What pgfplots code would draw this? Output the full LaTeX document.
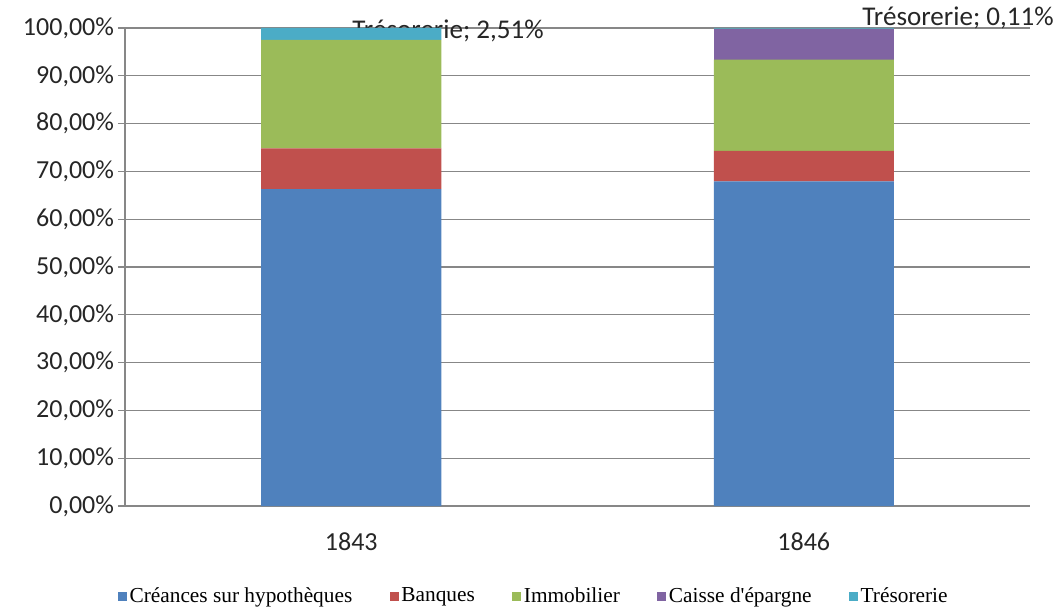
\documentclass[border=0pt]{standalone}
\usepackage{pgfplots}
\pgfplotsset{compat=1.18}
\usepackage{fontspec}
\setmainfont{Carlito}
\newfontfamily\legfont{Liberation Serif}
\newcommand{\legtxt}[1]{{\legfont\fontsize{16}{18}\selectfont #1}}
\definecolor{cA}{HTML}{4F81BD}
\definecolor{cB}{HTML}{C0504D}
\definecolor{cC}{HTML}{9BBB59}
\definecolor{cD}{HTML}{8064A2}
\definecolor{cE}{HTML}{4BACC6}
\definecolor{gridc}{HTML}{878787}
\begin{document}
\begin{tikzpicture}
\useasboundingbox (-93.75pt,-75.75pt) rectangle (699pt,379.5pt);
\begin{axis}[
  scale only axis,
  width=678.75pt, height=358.5pt,
  ybar stacked, bar width=135pt,
  xmin=-0.5, xmax=1.5, ymin=0, ymax=100,
  axis x line*=bottom, axis y line*=left,
  axis line style={gridc, line width=0.8pt},
  xtick={0,1}, xticklabels={1843,1846},
  major x tick style={draw=none},
  extra x ticks={-0.5,0.5,1.5}, extra x tick labels={},
  extra x tick style={major tick length=5.25pt, tick align=outside, grid=none, major tick style={draw=gridc,line width=0.8pt}},
  ytick={0,10,...,100},
  yticklabel={\pgfmathprintnumber[fixed,fixed zerofill,precision=2,use comma,assume math mode=true]{\tick}\%},
  ymajorgrids, major grid style={gridc, line width=0.8pt},
  tick align=outside, major tick length=5.25pt,
  y tick style={gridc, line width=0.8pt},
  tick label style={font=\fontsize{19.5}{22}\selectfont, text=black!85},
  yticklabel style={xshift=0.5pt},
  xticklabel style={yshift=-11.5pt},
  clip=false,
  legend columns=5,
  legend style={at={(0.452,-0.188)}, anchor=center, draw=none, fill=none,
    font=\legfont\fontsize{16}{18}\selectfont, text=black,
    /tikz/every even column/.append style={column sep=26pt}},
  legend image code/.code={\fill[#1] (0pt,-3.6pt) rectangle (6.8pt,3.2pt);},
]
\addplot[fill=cA, draw=none] coordinates {(0,66.3) (1,67.9)};
\addplot[fill=cB, draw=none] coordinates {(0,8.5) (1,6.4)};
\addplot[fill=cC, draw=none] coordinates {(0,22.69) (1,19.1)};
\addplot[fill=cD, draw=none] coordinates {(0,0) (1,6.49)};
\addplot[fill=cE, draw=none] coordinates {(0,2.51) (1,0.11)};
\legend{\legtxt{Créances sur hypothèques},\legtxt{Banques},\legtxt{Immobilier},\legtxt{Caisse d'épargne},\legtxt{Trésorerie}}
\node[font=\fontsize{20.3}{24}\selectfont, text=black!85] at (axis cs:0.214,99.4) {Trésorerie; 2,51\%};
\node[font=\fontsize{20.3}{24}\selectfont, text=black!85] at (axis cs:1.341,102.1) {Trésorerie; 0,11\%};
\end{axis}
\end{tikzpicture}
\end{document}
